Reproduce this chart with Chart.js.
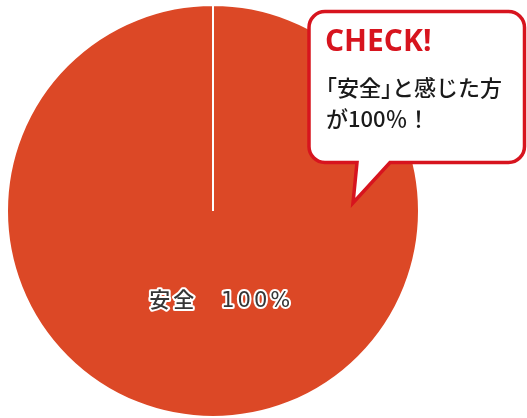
<!DOCTYPE html>
<html>
<head>
<meta charset="utf-8">
<script src="https://cdn.jsdelivr.net/npm/chart.js@4/dist/chart.umd.min.js"></script>
<style>
  html, body { margin: 0; padding: 0; background: #ffffff; }
  #wrap { width: 527px; height: 418px; position: relative; }
</style>
</head>
<body>
<div id="wrap"><canvas id="c" width="527" height="418"></canvas></div>
<script>
const categories = ['安全'];
const values = [100];
const sliceColors = ['#DC4826'];
const calloutTitle = 'CHECK!';
const calloutLines = ['「安全」と感じた方', 'が100％！'];

const sliceLabelPlugin = {
  id: 'sliceLabel',
  afterDatasetsDraw(chart) {
    const ctx = chart.ctx;
    const meta = chart.getDatasetMeta(0);
    const total = values.reduce((a, b) => a + b, 0);
    meta.data.forEach((arc, i) => {
      const p = arc.getProps(['x', 'y', 'outerRadius'], true);
      const pct = Math.round(values[i] / total * 100);
      const text = categories[i] + '\u3000' + pct + '%';
      ctx.save();
      ctx.font = '500 21px "DejaVu Sans", "Noto Sans CJK JP", sans-serif';
      ctx.letterSpacing = '3px';
      ctx.textAlign = 'center';
      ctx.textBaseline = 'middle';
      const lx = p.x + p.outerRadius * 0.04;
      const ly = p.y + p.outerRadius * 0.44;
      ctx.lineJoin = 'round';
      ctx.lineWidth = 4;
      ctx.strokeStyle = '#ffffff';
      ctx.strokeText(text, lx, ly);
      ctx.fillStyle = '#363636';
      ctx.fillText(text, lx, ly);
      ctx.restore();
    });
  }
};

// draw a line of Japanese text with proportional (half-width) corner brackets
function drawJp(ctx, text, x, y) {
  let cx = x;
  for (const ch of text) {
    const w = ctx.measureText(ch).width;
    if (ch === '「') {
      ctx.fillText(ch, cx - w / 2, y);
      cx += w / 2;
    } else if (ch === '」') {
      ctx.fillText(ch, cx, y);
      cx += w / 2;
    } else {
      ctx.fillText(ch, cx, y);
      cx += w;
    }
  }
}

const calloutPlugin = {
  id: 'callout',
  afterDraw(chart) {
    const ctx = chart.ctx;
    const x0 = 309, y0 = 11.5, x1 = 524.5, y1 = 162.5, r = 16;
    const tl = 357, tr = 390, tipX = 353, tipY = 203;
    ctx.save();
    ctx.beginPath();
    ctx.moveTo(x0 + r, y0);
    ctx.lineTo(x1 - r, y0);
    ctx.arcTo(x1, y0, x1, y0 + r, r);
    ctx.lineTo(x1, y1 - r);
    ctx.arcTo(x1, y1, x1 - r, y1, r);
    ctx.lineTo(tr, y1);
    ctx.lineTo(tipX, tipY);
    ctx.lineTo(tl, y1);
    ctx.lineTo(x0 + r, y1);
    ctx.arcTo(x0, y1, x0, y1 - r, r);
    ctx.lineTo(x0, y0 + r);
    ctx.arcTo(x0, y0, x0 + r, y0, r);
    ctx.closePath();
    ctx.fillStyle = '#ffffff';
    ctx.fill();
    ctx.lineWidth = 3.5;
    ctx.lineJoin = 'miter';
    ctx.strokeStyle = '#D7141E';
    ctx.stroke();

    ctx.fillStyle = '#D7141E';
    ctx.font = 'bold 30px "Open Sans", "Noto Sans", sans-serif';
    ctx.textBaseline = 'alphabetic';
    ctx.textAlign = 'left';
    ctx.fillText(calloutTitle, 325, 51);

    ctx.fillStyle = '#1a1a1a';
    ctx.font = '500 22px "Noto Sans CJK JP", sans-serif';
    ctx.textBaseline = 'middle';
    drawJp(ctx, calloutLines[0], 326, 88);
    drawJp(ctx, calloutLines[1], 326, 119);
    ctx.restore();
  }
};

new Chart(document.getElementById('c'), {
  type: 'pie',
  data: {
    labels: categories,
    datasets: [{
      data: values,
      backgroundColor: sliceColors,
      borderColor: '#ffffff',
      borderWidth: 2
    }]
  },
  options: {
    responsive: false,
    animation: false,
    layout: { padding: { left: 6, right: 107, top: 4, bottom: 0 } },
    plugins: {
      legend: { display: false },
      tooltip: { enabled: false }
    }
  },
  plugins: [sliceLabelPlugin, calloutPlugin]
});
</script>
</body>
</html>
